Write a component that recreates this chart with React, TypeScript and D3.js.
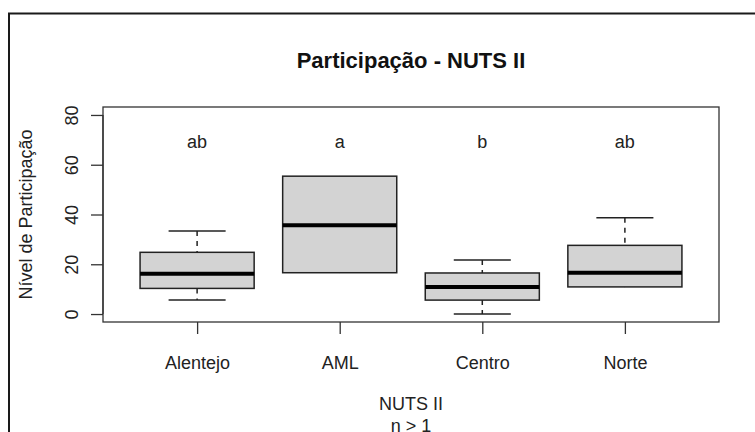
import React, { useRef, useEffect } from 'react';
import * as d3 from 'd3';

// values
const regions = ['Alentejo', 'AML', 'Centro', 'Norte'];
const whiskerLow = [5.6, 16.6, 0, 10.9];
const quartile1 = [10.3, 16.6, 5.6, 10.9];
const medians = [16.2, 35.7, 10.9, 16.6];
const quartile3 = [24.8, 55.4, 16.5, 27.6];
const whiskerHigh = [33.4, 55.4, 21.7, 38.7];
const groupLetters = ['ab', 'a', 'b', 'ab'];
const letterLevel = 70;
const yTicks = [0, 20, 40, 60, 80];

const W = 755, H = 432;
const margin = { top: 107, right: 36, bottom: 110, left: 103 };
const FONT = 'Liberation Sans, Arial, sans-serif';

const App = () => {
    const ref = useRef(null);
    const plotW = W - margin.left - margin.right;
    const plotH = H - margin.top - margin.bottom;

    useEffect(() => {
        const svg = d3.select(ref.current);
        svg.selectAll('*').remove();

        // outer frame (only top and left edges fall inside the picture)
        svg.append('rect')
            .attr('x', 9).attr('y', 13.5)
            .attr('width', 900).attr('height', 600)
            .attr('fill', 'none').attr('stroke', '#1a1a1a').attr('stroke-width', 2);

        // R-style ranges: 4% extension on each side
        const xScale = d3.scaleLinear().domain([0.34, 4.66]).range([0, plotW]);
        const yScale = d3.scaleLinear().domain([-3.2, 83.2]).range([plotH, 0]);
        const half = xScale(1.4) - xScale(1);
        const staple = half / 2;

        const g = svg.append('g').attr('transform', `translate(${margin.left},${margin.top})`);

        // y axis
        const yAxis = g.append('g')
            .call(d3.axisLeft(yScale).tickValues(yTicks).tickSize(12).tickSizeOuter(0).tickPadding(0));
        yAxis.select('.domain')
            .attr('d', `M0,${yScale(0)}V${yScale(80)}`)
            .attr('stroke', '#333').attr('stroke-width', 1.3);
        yAxis.selectAll('.tick line').attr('stroke', '#333').attr('stroke-width', 1.3);
        yAxis.selectAll('.tick text')
            .attr('font-family', FONT).attr('font-size', 18).attr('fill', '#222')
            .attr('x', 0).attr('y', 0).attr('dy', null)
            .attr('text-anchor', 'middle')
            .attr('transform', 'translate(-25,0) rotate(-90)');

        // x axis
        const xAxis = g.append('g')
            .attr('transform', `translate(0,${plotH})`)
            .call(d3.axisBottom(xScale).tickValues([1, 2, 3, 4]).tickSize(12).tickSizeOuter(0)
                .tickFormat((d, i) => regions[i]).tickPadding(22));
        xAxis.select('.domain').remove();
        xAxis.selectAll('.tick line').attr('stroke', '#333').attr('stroke-width', 1.3);
        xAxis.selectAll('.tick text')
            .attr('font-family', FONT).attr('font-size', 18).attr('fill', '#222')
            .attr('dy', '0.71em');

        // boxes
        const idx = d3.range(regions.length);
        const box = g.selectAll('g.box').data(idx).enter().append('g').attr('class', 'box');
        box.append('line')
            .attr('x1', i => xScale(i + 1)).attr('x2', i => xScale(i + 1))
            .attr('y1', i => yScale(whiskerHigh[i])).attr('y2', i => yScale(quartile3[i]))
            .attr('stroke', '#222').attr('stroke-width', 1.5).attr('stroke-dasharray', '5,5');
        box.append('line')
            .attr('x1', i => xScale(i + 1)).attr('x2', i => xScale(i + 1))
            .attr('y1', i => yScale(quartile1[i])).attr('y2', i => yScale(whiskerLow[i]))
            .attr('stroke', '#222').attr('stroke-width', 1.5).attr('stroke-dasharray', '5,5');
        box.filter(i => whiskerHigh[i] > quartile3[i]).append('line')
            .attr('x1', i => xScale(i + 1) - staple).attr('x2', i => xScale(i + 1) + staple)
            .attr('y1', i => yScale(whiskerHigh[i])).attr('y2', i => yScale(whiskerHigh[i]))
            .attr('stroke', '#222').attr('stroke-width', 1.5);
        box.filter(i => whiskerLow[i] < quartile1[i]).append('line')
            .attr('x1', i => xScale(i + 1) - staple).attr('x2', i => xScale(i + 1) + staple)
            .attr('y1', i => yScale(whiskerLow[i])).attr('y2', i => yScale(whiskerLow[i]))
            .attr('stroke', '#222').attr('stroke-width', 1.5);
        box.append('rect')
            .attr('x', i => xScale(i + 1) - half)
            .attr('width', half * 2)
            .attr('y', i => yScale(quartile3[i]))
            .attr('height', i => yScale(quartile1[i]) - yScale(quartile3[i]))
            .attr('fill', '#d3d3d3').attr('stroke', '#222').attr('stroke-width', 1.5);
        box.append('line')
            .attr('x1', i => xScale(i + 1) - half).attr('x2', i => xScale(i + 1) + half)
            .attr('y1', i => yScale(medians[i])).attr('y2', i => yScale(medians[i]))
            .attr('stroke', '#000').attr('stroke-width', 4);

        // significance letters
        g.selectAll('text.letter').data(idx).enter().append('text')
            .attr('class', 'letter')
            .attr('x', i => xScale(i + 1))
            .attr('y', yScale(letterLevel) + 8)
            .attr('text-anchor', 'middle')
            .attr('font-family', FONT).attr('font-size', 18).attr('fill', '#222')
            .text(i => groupLetters[i]);

        // plot box
        g.append('rect')
            .attr('width', plotW).attr('height', plotH)
            .attr('fill', 'none').attr('stroke', '#333').attr('stroke-width', 1.3);

        // titles
        svg.append('text')
            .attr('x', margin.left + plotW / 2).attr('y', 68)
            .attr('text-anchor', 'middle')
            .attr('font-family', FONT).attr('font-size', 22).attr('font-weight', 'bold')
            .attr('fill', '#111')
            .text('Participação - NUTS II');
        const xl = svg.append('text')
            .attr('text-anchor', 'middle')
            .attr('font-family', FONT).attr('font-size', 18).attr('fill', '#222');
        xl.append('tspan').attr('x', margin.left + plotW / 2).attr('y', 410).text('NUTS II');
        xl.append('tspan').attr('x', margin.left + plotW / 2).attr('y', 432).text('n > 1');
        svg.append('text')
            .attr('transform', `translate(32,${margin.top + plotH / 2}) rotate(-90)`)
            .attr('text-anchor', 'middle')
            .attr('font-family', FONT).attr('font-size', 18).attr('fill', '#222')
            .text('Nível de Participação');
    }, []);

    return (
        <svg ref={ref} width={W} height={H}
            style={{ position: 'absolute', left: 0, top: 0, background: '#fff' }}
            viewBox={`0 0 ${W} ${H}`} />
    );
};

export default App;
